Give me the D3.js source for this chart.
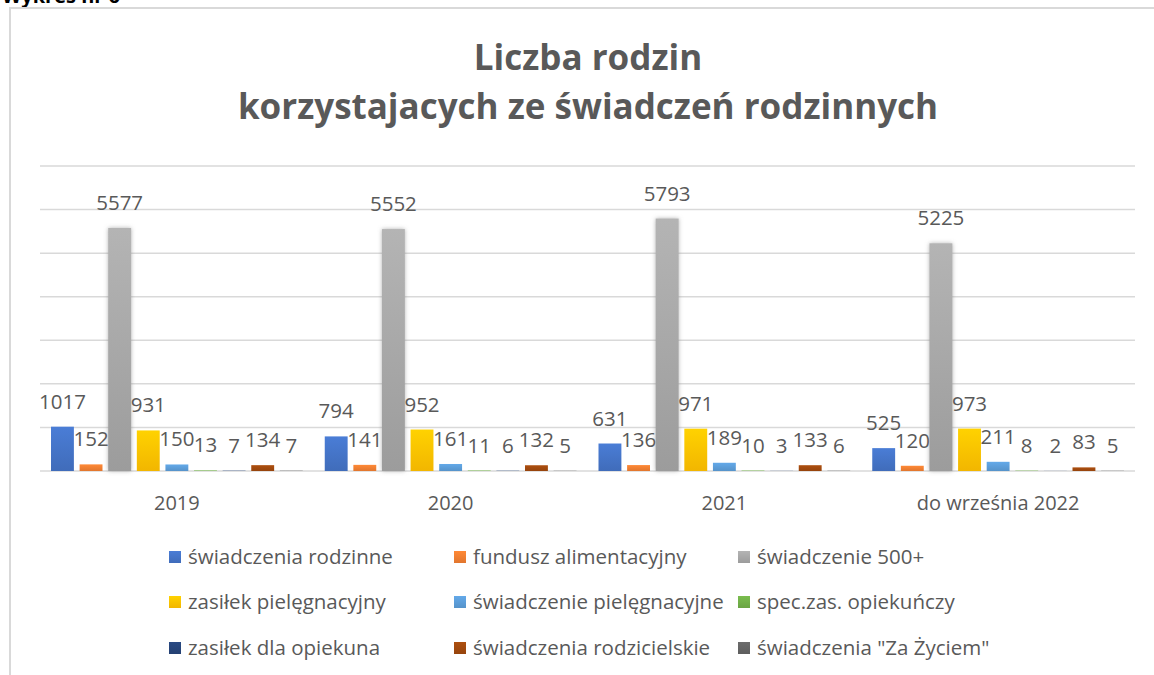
<!DOCTYPE html>
<html>
<head>
<meta charset="utf-8">
<script src="https://cdn.jsdelivr.net/npm/d3@7"></script>
<style>
  html, body { margin: 0; padding: 0; background: #fff; }
  svg { display: block; font-family: 'Open Sans', sans-serif; }
</style>
</head>
<body>
<div id="chart"></div>
<script>
const categories = ['2019', '2020', '2021', 'do września 2022']

const seriesNames = [
  'świadczenia rodzinne',
  'fundusz alimentacyjny',
  'świadczenie 500+',
  'zasiłek pielęgnacyjny',
  'świadczenie pielęgnacyjne',
  'spec.zas. opiekuńczy',
  'zasiłek dla opiekuna',
  'świadczenia rodzicielskie',
  'świadczenia "Za Życiem"'
]

const swiadczeniaRodzinne = [1017, 794, 631, 525]
const funduszAlimentacyjny = [152, 141, 136, 120]
const swiadczenie500 = [5577, 5552, 5793, 5225]
const zasilekPielegnacyjny = [931, 952, 971, 973]
const swiadczeniePielegnacyjne = [150, 161, 189, 211]
const specZasOpiekunczy = [13, 11, 10, 8]
const zasilekDlaOpiekuna = [7, 6, 3, 2]
const swiadczeniaRodzicielskie = [134, 132, 133, 83]
const zaZyciem = [7, 5, 6, 5]

const seriesValues = [
  swiadczeniaRodzinne, funduszAlimentacyjny, swiadczenie500,
  zasilekPielegnacyjny, swiadczeniePielegnacyjne, specZasOpiekunczy,
  zasilekDlaOpiekuna, swiadczeniaRodzicielskie, zaZyciem
]

const colors = ['#4472c4', '#ed7d31', '#a5a5a5', '#ffc000', '#5b9bd5',
                '#70ad47', '#264478', '#9e480e', '#636363']

const width = 1154, height = 675
const textColor = '#595959'
const gridColor = '#d9d9d9'

const svg = d3.select('#chart')
  .append('svg')
    .attr('width', width)
    .attr('height', height)

// gradienty jak w Excelu
const defs = svg.append('defs')
colors.forEach((c, i) => {
  const g = defs.append('linearGradient')
      .attr('id', 'grad' + i)
      .attr('x1', 0).attr('y1', 0).attr('x2', 0).attr('y2', 1)
  g.append('stop').attr('offset', '0%').attr('stop-color', d3.color(c).brighter(0.25))
  g.append('stop').attr('offset', '100%').attr('stop-color', d3.color(c).darker(0.15))
})
defs.append('filter')
    .attr('id', 'shadow')
    .attr('x', '-30%').attr('y', '-5%').attr('width', '160%').attr('height', '110%')
  .append('feDropShadow')
    .attr('dx', 0).attr('dy', 0)
    .attr('stdDeviation', 2)
    .attr('flood-color', '#808080')
    .attr('flood-opacity', 0.6)

// nagłówek ucięty u góry (jak na oryginale)
svg.append('text')
    .attr('x', 2)
    .attr('y', 3)
    .attr('font-size', 20)
    .attr('font-weight', 'bold')
    .attr('fill', '#000')
    .text('Wykres nr 6')

// ramka wykresu
svg.append('path')
    .attr('d', `M10,${height} V8 H${width}`)
    .attr('fill', 'none')
    .attr('stroke', gridColor)
    .attr('stroke-width', 2)

// tytuł
const title = svg.append('text')
    .attr('text-anchor', 'middle')
    .attr('font-size', 35)
    .attr('font-weight', 'bold')
    .attr('fill', textColor)
title.append('tspan').attr('x', 588).attr('y', 70).text('Liczba rodzin')
title.append('tspan').attr('x', 588).attr('y', 119).text('korzystajacych ze świadczeń rodzinnych')

const plot = { left: 40, right: 1135, top: 166, bottom: 471 }

const x0 = d3.scaleBand()
  .domain(categories)
  .range([plot.left, plot.right])

const x1 = d3.scaleBand()
  .domain(d3.range(seriesNames.length))
  .range([11, x0.bandwidth() - 11])
  .paddingInner(0.2)

const y = d3.scaleLinear()
  .domain([0, 7000])
  .range([plot.bottom, plot.top])

// linie siatki
svg.append('g')
  .selectAll('line')
  .data(y.ticks(7))
  .enter()
  .append('line')
    .attr('x1', plot.left)
    .attr('x2', plot.right)
    .attr('y1', d => y(d))
    .attr('y2', d => y(d))
    .attr('stroke', gridColor)
    .attr('stroke-width', 1.5)

const groups = svg.append('g')
  .selectAll('g')
  .data(categories)
  .enter()
  .append('g')
    .attr('transform', d => `translate(${x0(d)},0)`)

const cells = groups.selectAll('g')
  .data((c, ci) => seriesValues.map((vals, si) => ({ si, value: vals[ci] })))
  .enter()
  .append('g')

cells.append('rect')
    .attr('x', d => x1(d.si))
    .attr('width', x1.bandwidth())
    .attr('y', d => y(d.value))
    .attr('height', d => y(0) - y(d.value))
    .attr('fill', d => `url(#grad${d.si})`)
    .attr('filter', d => d.si === 2 ? 'url(#shadow)' : null)

cells.append('text')
    .attr('x', d => x1(d.si) + x1.bandwidth() / 2)
    .attr('y', d => y(d.value) - 18)
    .attr('text-anchor', 'middle')
    .attr('font-size', 20.5)
    .attr('fill', textColor)
    .text(d => d.value)

// oś kategorii
const xAxis = svg.append('g')
    .attr('transform', `translate(0,${plot.bottom})`)
    .call(d3.axisBottom(x0).tickSize(0).tickPadding(25))
xAxis.select('.domain').remove()
xAxis.selectAll('text')
    .attr('font-family', "'Open Sans', sans-serif")
    .attr('font-size', 20)
    .attr('fill', textColor)

// legenda
const legendCols = [169, 454, 738]
const legendRows = [557, 602, 648]
const legend = svg.append('g')
  .selectAll('g')
  .data(seriesNames)
  .enter()
  .append('g')
    .attr('transform', (d, i) => `translate(${legendCols[i % 3]},${legendRows[Math.floor(i / 3)]})`)

legend.append('rect')
    .attr('x', 0)
    .attr('y', -6)
    .attr('width', 12)
    .attr('height', 12)
    .attr('fill', (d, i) => `url(#grad${i})`)

legend.append('text')
    .attr('x', 19)
    .attr('dy', '0.35em')
    .attr('font-size', 20.5)
    .attr('fill', textColor)
    .text(d => d)
</script>
</body>
</html>
